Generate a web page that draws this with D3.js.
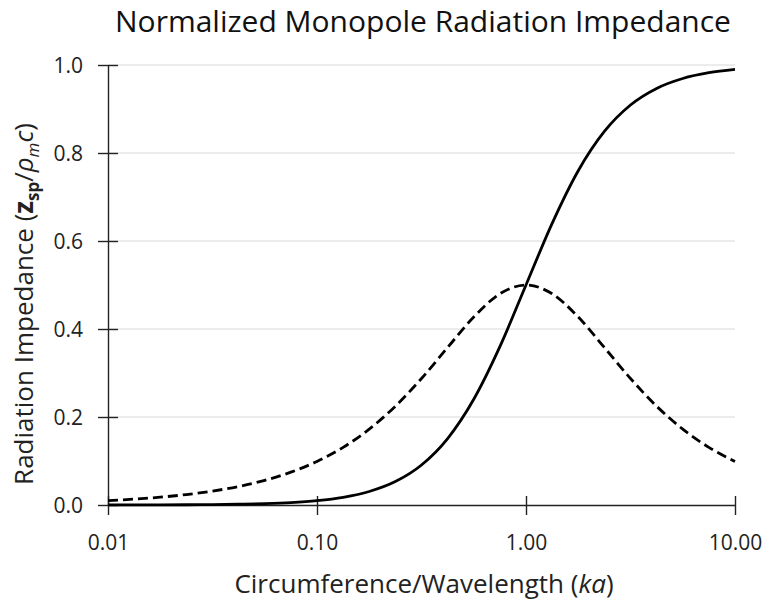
<!DOCTYPE html>
<html>
<head>
<meta charset="utf-8">
<script src="https://cdn.jsdelivr.net/npm/d3@7"></script>
<style>
  html, body { margin: 0; padding: 0; background: #fff; }
  svg { display: block; font-family: "Open Sans", "Noto Sans", sans-serif; }
</style>
</head>
<body>
<div id="chart"></div>
<script>
// ka values (log spaced)
const ka = [0.01, 0.01334, 0.01778, 0.02371, 0.03162, 0.04217, 0.05623, 0.07499,
  0.1, 0.1334, 0.1778, 0.2371, 0.3162, 0.4217, 0.5623, 0.7499,
  1, 1.334, 1.778, 2.371, 3.162, 4.217, 5.623, 7.499, 10];
// solid curve (resistance)
const resistance = [0.0001, 0.0002, 0.0003, 0.0006, 0.001, 0.0018, 0.0032, 0.0056,
  0.0099, 0.0175, 0.0307, 0.0532, 0.0909, 0.151, 0.2403, 0.3599,
  0.5, 0.6401, 0.7597, 0.849, 0.9091, 0.9468, 0.9693, 0.9825, 0.9901];
// dashed curve (reactance)
const reactance = [0.0099, 0.0133, 0.0178, 0.0237, 0.0316, 0.0421, 0.0561, 0.0746,
  0.099, 0.131, 0.1724, 0.2245, 0.2875, 0.358, 0.4272, 0.48,
  0.5, 0.48, 0.4272, 0.358, 0.2875, 0.2245, 0.1724, 0.131, 0.099];
const xTicks = [0.01, 0.1, 1, 10];
const yTicks = [0, 0.2, 0.4, 0.6, 0.8, 1.0];

const W = 779, H = 601;
const margin = { top: 65, right: 44, bottom: 96, left: 108 };
const iw = W - margin.left - margin.right;
const ih = H - margin.top - margin.bottom;

const svg = d3.select('#chart').append('svg')
  .attr('width', W).attr('height', H);

const g = svg.append('g')
  .attr('transform', `translate(${margin.left},${margin.top})`);

const x = d3.scaleLog().domain([0.01, 10]).range([0, iw]);
const y = d3.scaleLinear().domain([0, 1]).range([ih, 0]);

// gridlines
g.append('g')
  .selectAll('line')
  .data(yTicks.filter(d => d > 0))
  .join('line')
  .attr('x1', 0).attr('x2', iw)
  .attr('y1', d => y(d)).attr('y2', d => y(d))
  .attr('stroke', '#d9d9d9').attr('stroke-width', 1.2);

// y axis
const yAxis = g.append('g')
  .call(d3.axisLeft(y).tickValues(yTicks).tickFormat(d3.format('.1f')).tickSizeOuter(0));
yAxis.selectAll('.tick line').attr('x1', -10).attr('x2', 10).attr('stroke', '#222').attr('stroke-width', 1.4);
yAxis.select('.domain').attr('stroke', '#222').attr('stroke-width', 1.4);
yAxis.selectAll('.tick text')
  .attr('x', -25).attr('dy', '0.34em')
  .style('font-size', '21px').style('fill', '#222').style('font-family', '"Open Sans", sans-serif');

// x axis
const xAxis = g.append('g')
  .attr('transform', `translate(0,${ih})`)
  .call(d3.axisBottom(x).tickValues(xTicks).tickFormat(d3.format('.2f')).tickSizeOuter(0));
xAxis.selectAll('.tick line').attr('y1', -9).attr('y2', 10).attr('stroke', '#222').attr('stroke-width', 1.4);
xAxis.select('.domain').attr('stroke', '#222').attr('stroke-width', 1.4);
xAxis.selectAll('.tick text')
  .attr('y', 30).attr('dy', '0.71em')
  .style('font-size', '21px').style('fill', '#222').style('font-family', '"Open Sans", sans-serif');

// curves
const line = d3.line()
  .x(d => x(d[0]))
  .y(d => y(d[1]))
  .curve(d3.curveMonotoneX);

g.append('path')
  .datum(ka.map((k, i) => [k, reactance[i]]))
  .attr('d', line)
  .attr('fill', 'none')
  .attr('stroke', '#000')
  .attr('stroke-width', 2.8)
  .attr('stroke-dasharray', '10,5');

g.append('path')
  .datum(ka.map((k, i) => [k, resistance[i]]))
  .attr('d', line)
  .attr('fill', 'none')
  .attr('stroke', '#000')
  .attr('stroke-width', 2.8);

// title
svg.append('text')
  .attr('x', 423).attr('y', 32)
  .attr('text-anchor', 'middle')
  .style('font-size', '30px').style('fill', '#111')
  .text('Normalized Monopole Radiation Impedance');

// x axis title
const xt = svg.append('text')
  .attr('x', 424).attr('y', 593)
  .attr('text-anchor', 'middle')
  .style('font-size', '26px').style('fill', '#222');
xt.append('tspan').text('Circumference/Wavelength (');
xt.append('tspan').style('font-style', 'italic').text('ka');
xt.append('tspan').text(')');

// y axis title
const yt = svg.append('text')
  .attr('transform', 'translate(33,304) rotate(-90)')
  .attr('text-anchor', 'middle')
  .style('font-size', '26px').style('fill', '#222');
yt.append('tspan').text('Radiation Impedance (');
yt.append('tspan').style('font-weight', 'bold').text('z');
yt.append('tspan').attr('dy', 6).style('font-size', '17px').style('font-weight', 'bold').text('sp');
yt.append('tspan').attr('dy', -6).text('/');
yt.append('tspan').style('font-style', 'italic').text('ρ');
yt.append('tspan').attr('dy', 6).style('font-size', '17px').style('font-style', 'italic').text('m');
yt.append('tspan').attr('dy', -6).style('font-style', 'italic').text('c');
yt.append('tspan').text(')');
</script>
</body>
</html>
